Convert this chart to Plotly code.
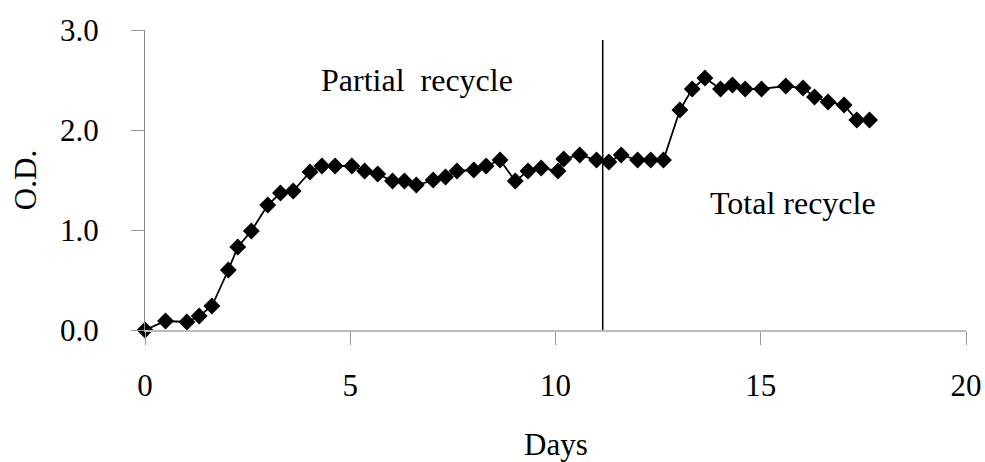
import plotly.graph_objects as go

days = [0.0, 0.50, 1.02, 1.32, 1.63, 2.03, 2.26, 2.59, 2.99, 3.30, 3.61, 4.02, 4.31,
        4.63, 5.04, 5.35, 5.67, 6.03, 6.32, 6.61, 7.02, 7.32, 7.60, 8.01, 8.31, 8.65,
        9.02, 9.33, 9.65, 10.06, 10.20, 10.59, 11.00, 11.30, 11.60, 12.00, 12.32, 12.63,
        13.03, 13.33, 13.64, 14.02, 14.31, 14.62, 15.02, 15.61, 16.03, 16.31, 16.64,
        17.03, 17.34, 17.65]
od = [0.00, 0.09, 0.08, 0.14, 0.24, 0.60, 0.83, 0.99, 1.25, 1.37, 1.39, 1.58, 1.64,
      1.64, 1.64, 1.59, 1.56, 1.49, 1.49, 1.45, 1.50, 1.53, 1.59, 1.60, 1.64, 1.70,
      1.49, 1.59, 1.62, 1.59, 1.71, 1.75, 1.70, 1.68, 1.75, 1.70, 1.70, 1.70,
      2.20, 2.41, 2.52, 2.41, 2.45, 2.41, 2.41, 2.44, 2.42, 2.33, 2.28,
      2.25, 2.10, 2.10]

divider_x = [11.15, 11.15]
divider_y = [0.0, 2.9]

x_ticks = [0, 5, 10, 15, 20]
y_ticks = [0, 1, 2, 3]

FONT = "Liberation Serif, Times New Roman, serif"

fig = go.Figure()
fig.add_trace(go.Scatter(x=divider_x, y=divider_y, mode="lines",
                         line=dict(color="black", width=1.5), showlegend=False,
                         hoverinfo="skip"))
fig.add_trace(go.Scatter(x=days, y=od, mode="lines+markers",
                         line=dict(color="black", width=1.8),
                         marker=dict(symbol="diamond", size=13, color="black"),
                         showlegend=False, cliponaxis=False))

fig.add_annotation(x=6.63, y=2.5, xref="x", yref="y", text="Partial&nbsp;&nbsp;recycle",
                   showarrow=False, font=dict(family=FONT, size=32, color="black"))
fig.add_annotation(x=15.78, y=1.27, xref="x", yref="y", text="Total recycle",
                   showarrow=False, font=dict(family=FONT, size=32, color="black"))
fig.add_annotation(x=0.5, y=-0.383, xref="paper", yref="paper", text="Days",
                   xanchor="center", yanchor="middle",
                   showarrow=False, font=dict(family=FONT, size=31, color="black"))
fig.add_annotation(x=-0.146, y=0.5, xref="paper", yref="paper", text="O.D.", textangle=-90,
                   xanchor="center", yanchor="middle",
                   showarrow=False, font=dict(family=FONT, size=31, color="black"))

fig.update_layout(
    width=985, height=462,
    margin=dict(l=145, r=19, t=30, b=132, autoexpand=False),
    paper_bgcolor="white", plot_bgcolor="white",
    font=dict(family=FONT, size=32, color="black"),
    xaxis=dict(range=[0, 20], tickvals=x_ticks, ticks="outside", ticklen=13,
               tickcolor="#999", tickwidth=1.2, showline=True, linecolor="#bbb",
               linewidth=1.5, showgrid=False, zeroline=False, ticklabelstandoff=14,
               automargin=False, tickfont=dict(family=FONT, size=31)),
    yaxis=dict(range=[0, 3], tickvals=y_ticks, tickformat=".1f", ticks="outside",
               ticklen=13, tickcolor="#999", tickwidth=1.2, showline=True,
               linecolor="#888", linewidth=1.2, showgrid=False, zeroline=False,
               automargin=False, ticklabelstandoff=26, tickfont=dict(family=FONT, size=31)),
)

fig.write_html("out.html")
